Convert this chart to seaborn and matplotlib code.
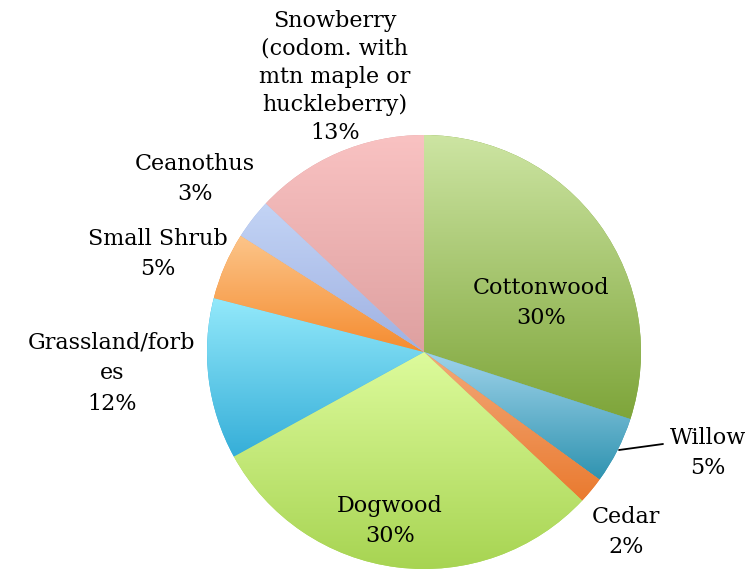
import numpy as np
import matplotlib
matplotlib.use("Agg")
import matplotlib.pyplot as plt
import seaborn as sns

# Vegetation cover types and their share of the mapped area (%)
categories = ["Cottonwood", "Willow", "Cedar", "Dogwood", "Grassland/forb\nes",
              "Small Shrub", "Ceanothus",
              "Snowberry\n(codom. with\nmtn maple or\nhuckleberry)"]
shares = [30, 5, 2, 30, 12, 5, 3, 13]

# Each slice is filled with a vertical gradient: light at the top, deeper at the bottom
top_colors = ["#cde5a3", "#9fd3ea", "#f2a97a", "#ddfb9c", "#93e9fb",
              "#fcc58a", "#c3d4f5", "#f9c2c2"]
bottom_colors = ["#7ea53a", "#2f93b0", "#ea7a2f", "#a7d452", "#35aed8",
                 "#f58c30", "#9fb1e2", "#dea0a0"]

# Label anchor points (pixel space, origin at top-left) and line spacing
label_pos = [(541, 303), (708, 453), (626, 532), (390, 521), (112, 373),
             (158, 254), (195, 179), (335, 77)]
label_spacing = [1.5, 1.45, 1.5, 1.5, 1.5, 1.5, 1.5, 1.36]

sns.set_theme(style="white")
plt.rcParams["font.family"] = ["DejaVu Serif"]

W, H = 753, 574
fig = plt.figure(figsize=(W / 100, H / 100), dpi=100)
ax = fig.add_axes([0, 0, 1, 1])

center = (424, H - 352)
radius = 217
wedges, _ = ax.pie(shares, startangle=90, counterclock=False, center=center,
                   radius=radius, colors=bottom_colors,
                   wedgeprops=dict(linewidth=0))

ax.set_xlim(0, W)
ax.set_ylim(0, H)
ax.set_aspect("equal")
ax.axis("off")

# Gradient fills clipped to each wedge
for w, c_top, c_bot in zip(wedges, top_colors, bottom_colors):
    ext = w.get_path().get_extents()
    top = np.array(matplotlib.colors.to_rgb(c_top))
    bot = np.array(matplotlib.colors.to_rgb(c_bot))
    t = np.linspace(0, 1, 256)[:, None]
    grad = (bot * (1 - t) + top * t)[:, None, :]
    im = ax.imshow(grad, extent=[ext.x0, ext.x1, ext.y0, ext.y1],
                   origin="lower", aspect="auto", interpolation="bilinear",
                   zorder=w.get_zorder() + 0.1)
    im.set_clip_path(w)

ax.set_xlim(0, W)
ax.set_ylim(0, H)

fs = 16
for name, share, (x, y), ls in zip(categories, shares, label_pos, label_spacing):
    ax.text(x, H - y, f"{name}\n{share}%", ha="center", va="center",
            fontsize=fs, color="black", linespacing=ls, zorder=10)

# Leader line for the narrow Willow slice
ax.plot([619, 663], [H - 450, H - 444], color="black", lw=1.3, zorder=10)

fig.savefig("out.png", dpi=100)
